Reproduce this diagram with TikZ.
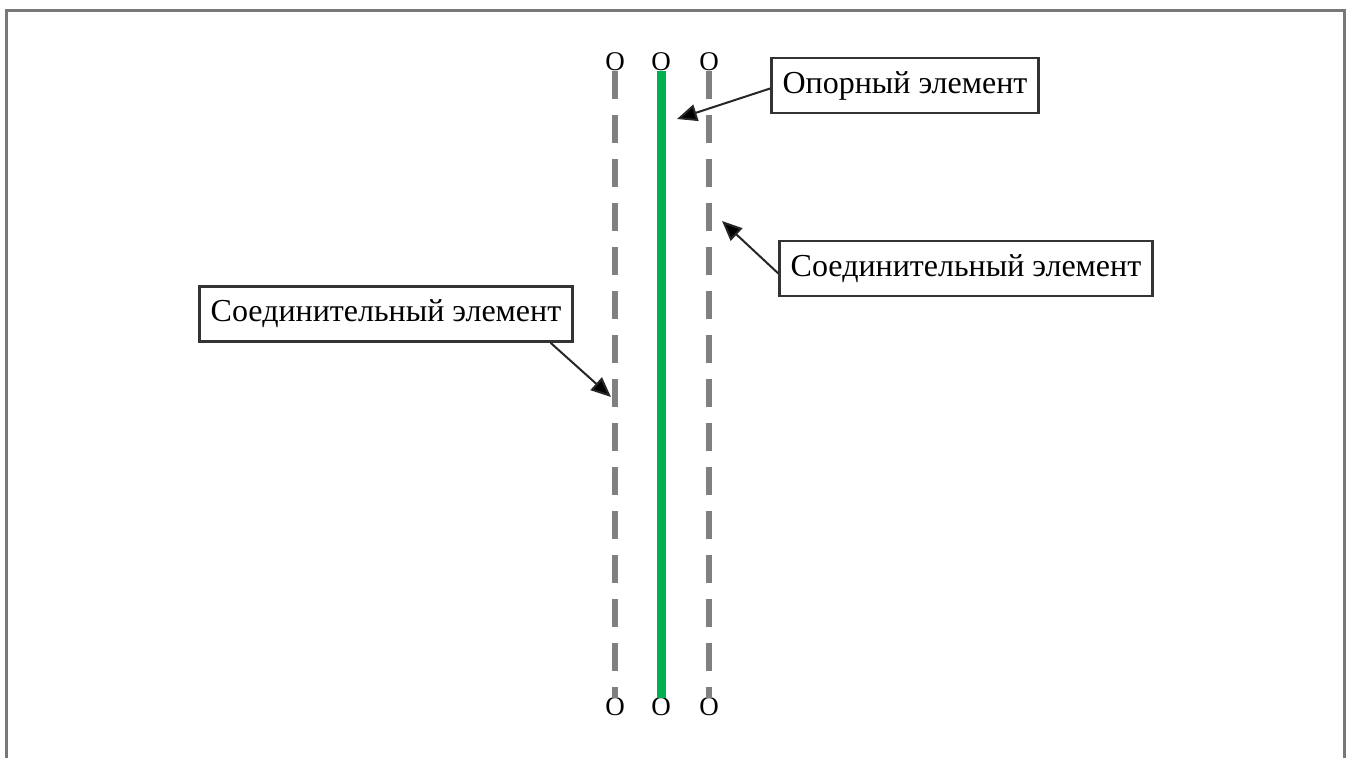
\documentclass[tikz,border=0pt]{standalone}
\usepackage{fontspec}
\setmainfont{Liberation Serif}
\usetikzlibrary{arrows.meta}

\definecolor{framegray}{RGB}{120,120,120}
\definecolor{dashgray}{RGB}{128,128,128}
\definecolor{opgreen}{RGB}{0,176,80}

\tikzset{
  labelbox/.style={draw=black!80,line width=1.4pt,fill=white,inner xsep=5.5pt,
    minimum height=27.5pt,font=\fontsize{16}{19}\selectfont},
  pin/.style={inner sep=0pt,font=\fontsize{13.5}{16}\selectfont},
  joinline/.style={draw=dashgray,line width=3pt,dash pattern=on 14pt off 8pt},
  baseline/.style={draw=opgreen,line width=4.5pt},
  pointer/.style={draw=black!85,line width=1pt,-{Triangle[length=10pt,width=8.5pt,fill=black]}}
}

\begin{document}
\begin{tikzpicture}[y=0.5pt, x=0.5pt, yscale=-1]
\useasboundingbox (0,0) rectangle (1350,758);
\path[draw=framegray,line width=1.5pt] (6,758) -- (6,11) -- (1344,11) -- (1344,758);

% pins
\node[pin] (lt) at (615,62) {O};
\node[pin] (mt) at (661,62) {O};
\node[pin] (rt) at (709,62) {O};
\node[pin] (lb) at (615,707) {O};
\node[pin] (mb) at (661,707) {O};
\node[pin] (rb) at (709,707) {O};

% elements
\path[joinline] (lt.south) -- (lb.north);
\path[baseline] (mt.south) -- (mb.north);
\path[joinline] (rt.south) -- (rb.north);

% labels
\node[labelbox] (opora) at (905,85.5) {Опорный элемент};
\node[labelbox] (soedR) at (966,268.5) {Соединительный элемент};
\node[labelbox] (soedL) at (386,314) {Соединительный элемент};

\coordinate (tipA) at (677,119);
\coordinate (tipB) at (722,221);
\coordinate (tipC) at (611,397);

\draw[pointer] ([yshift=1.5pt]opora.west) -- (tipA);
\draw[pointer] ([yshift=2.5pt]soedR.west) -- (tipB);
\draw[pointer] ([xshift=-11.5pt]soedL.south east) -- (tipC);

\end{tikzpicture}
\end{document}
